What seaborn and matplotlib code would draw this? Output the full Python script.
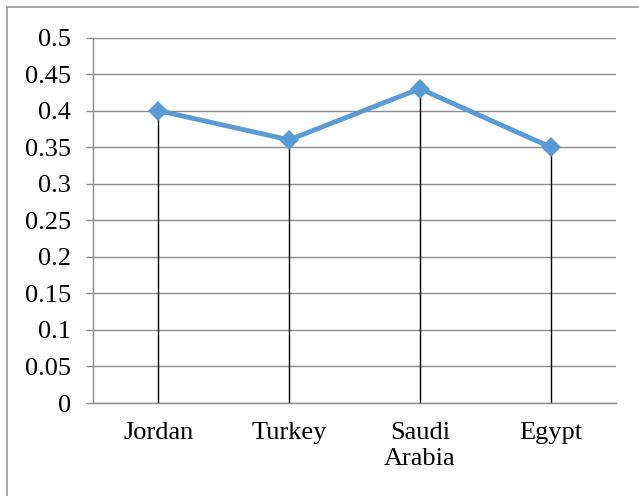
import matplotlib
matplotlib.use("Agg")
import matplotlib.pyplot as plt
import seaborn as sns
import pandas as pd
from matplotlib.patches import Rectangle

countries = ["Jordan", "Turkey", "Saudi\nArabia", "Egypt"]
values = [0.40, 0.36, 0.43, 0.35]
yticks = [0, 0.05, 0.1, 0.15, 0.2, 0.25, 0.3, 0.35, 0.4, 0.45, 0.5]
ytick_labels = ["0", "0.05", "0.1", "0.15", "0.2", "0.25", "0.3", "0.35", "0.4", "0.45", "0.5"]

sns.set_theme(style="white")
plt.rcParams['font.family'] = ['Liberation Serif', 'DejaVu Serif']

df = pd.DataFrame({"x": range(len(countries)), "country": countries, "value": values})

fig = plt.figure(figsize=(6.39, 4.96), dpi=100)
ax = fig.add_axes([93/639, 1-403/496, (616-93)/639, (403-37.5)/496])

grid_c = "#8c8c8c"
for t in yticks:
    ax.axhline(t, color=grid_c, lw=1.0, zorder=0)

ax.vlines(df["x"], 0, df["value"], color="black", lw=1.0, zorder=2)
sns.lineplot(data=df, x="x", y="value", ax=ax, color="#5B9BD5", lw=3.5,
             marker="D", markersize=10, markeredgewidth=0, zorder=3)

ax.set_xlim(-0.5, 3.5)
ax.set_ylim(0, 0.5)
ax.set_yticks(yticks)
ax.set_yticklabels(ytick_labels, fontsize=19, color="black")
ax.set_xticks(df["x"])
ax.set_xticklabels(countries, fontsize=19, color="black", linespacing=1.2, va="top")
ax.tick_params(axis="y", length=5, width=1, color=grid_c, pad=11, left=True)
ax.tick_params(axis="x", length=0, pad=14)
ax.set_xlabel("")
ax.set_ylabel("")
for s in ["top", "right"]:
    ax.spines[s].set_visible(False)
for s in ["left", "bottom"]:
    ax.spines[s].set_color(grid_c)
    ax.spines[s].set_linewidth(1.0)

fig.patches.append(Rectangle((7/639, -0.1), 1.2, 1 - 7/496 + 0.1, transform=fig.transFigure,
                             fill=False, edgecolor="#a0a0a0", lw=1.3))

fig.savefig("out.png", dpi=100)
